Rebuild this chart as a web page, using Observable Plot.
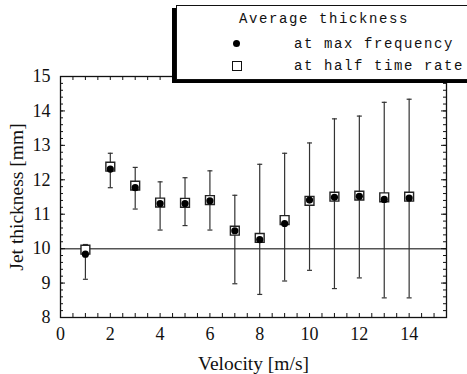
<!DOCTYPE html>
<html>
<head>
<meta charset="utf-8">
<script src="https://cdn.jsdelivr.net/npm/d3@7"></script>
<script src="https://cdn.jsdelivr.net/npm/@observablehq/plot@0.6"></script>
<style>
  html, body { margin: 0; padding: 0; background: white; }
  #wrap { position: relative; width: 467px; height: 374px; overflow: hidden; }
  #legend {
    position: absolute; left: 176px; top: 5px; width: 320px; height: 73px;
    border: 1px solid #111; background: white; box-shadow: -4px 3px 0 #000;
    font-family: "Liberation Mono", "DejaVu Sans Mono", monospace; font-size: 14px;
    letter-spacing: 1.6px; color: #111;
  }
  #legend .t { position: absolute; white-space: pre; line-height: 16px; }
  #legend .dot { position: absolute; width: 7px; height: 7px; border-radius: 50%; background: #000; }
  #legend .sq { position: absolute; width: 8px; height: 8px; border: 1px solid #111; background: white; }
</style>
</head>
<body>
<div id="wrap"></div>
<script>
const velocity = [1, 2, 3, 4, 5, 6, 7, 8, 9, 10, 11, 12, 13, 14];
const maxFrequency = [9.84, 12.31, 11.77, 11.31, 11.31, 11.39, 10.52, 10.26, 10.73, 11.41, 11.49, 11.52, 11.43, 11.47];
const halfTimeRate = [9.97, 12.38, 11.83, 11.34, 11.33, 11.41, 10.52, 10.31, 10.83, 11.39, 11.51, 11.54, 11.49, 11.51];
const errLow  = [9.11, 11.77, 11.15, 10.54, 10.67, 10.54, 8.98, 8.67, 9.06, 9.37, 8.84, 9.15, 8.57, 8.57];
const errHigh = [10.12, 12.77, 12.36, 11.94, 12.06, 12.26, 11.55, 12.45, 12.77, 13.07, 13.77, 13.85, 14.25, 14.34];
const xTickLabels = [0, 2, 4, 6, 8, 10, 12, 14];
const yTickLabels = [8, 9, 10, 11, 12, 13, 14, 15];
const referenceLine = [10];
const legendTitle = "Average thickness";
const legendLabels = ["at max frequency", "at half time rate"];

const rows = velocity.map((v, i) => ({
  v, maxF: maxFrequency[i], half: halfTimeRate[i], lo: errLow[i], hi: errHigh[i]
}));

const capSymbol = {
  draw(context, size) {
    const r = 2.5;
    context.moveTo(-r, 0);
    context.lineTo(r, 0);
  }
};

const xMinor = d3.range(0, 15.51, 0.5);
const yMinor = d3.range(8, 15.01, 0.2).map(d => Math.round(d * 10) / 10);

const W = 467, H = 374, mL = 60, mR = 21, mT = 76, mB = 57;
const fw = W - mL - mR, fh = H - mT - mB;

const chart = Plot.plot({
  width: W,
  height: H,
  marginLeft: mL,
  marginRight: mR,
  marginTop: mT,
  marginBottom: mB,
  style: { fontFamily: "'Liberation Serif', 'Times New Roman', serif", fontSize: "18px", background: "white", color: "#111" },
  x: { domain: [0, 15.5] },
  y: { domain: [8, 15] },
  marks: [
    Plot.ruleY(referenceLine, { stroke: "#555", strokeWidth: 1.5 }),
    Plot.frame({ stroke: "#111", strokeWidth: 1.3 }),
    // tick labels
    Plot.axisX(xTickLabels, { anchor: "bottom", tickSize: 0, tickPadding: 10, fontSize: 18, label: null }),
    Plot.axisY(yTickLabels, { anchor: "left", tickSize: 0, tickPadding: 10, fontSize: 18, label: null }),
    // axis titles
    Plot.axisX([], { anchor: "bottom", label: "Velocity [m/s]", labelAnchor: "center", labelArrow: "none", labelOffset: 52, fontSize: 19.5 }),
    Plot.axisY([], { anchor: "left", label: "Jet thickness [mm]", labelAnchor: "center", labelArrow: "none", labelOffset: 51, fontSize: 19.5 }),
    // inward ticks
    Plot.tickX(xMinor, { x: d => d, insetTop: fh - 4, stroke: "#111" }),
    Plot.tickX(xMinor, { x: d => d, insetBottom: fh - 4, stroke: "#111" }),
    Plot.tickY(yMinor, { y: d => d, insetRight: fw - 3, stroke: "#111" }),
    Plot.tickY(yTickLabels, { y: d => d, insetRight: fw - 5, stroke: "#111" }),
    Plot.tickY(yMinor, { y: d => d, insetLeft: fw - 3, stroke: "#111" }),
    Plot.tickY(yTickLabels, { y: d => d, insetLeft: fw - 5, stroke: "#111" }),
    // error bars
    Plot.ruleX(rows, { x: "v", y1: "lo", y2: "hi", stroke: "#333", strokeWidth: 1.2 }),
    Plot.dot(rows, { x: "v", y: "lo", symbol: capSymbol, stroke: "#333", strokeWidth: 1.2, r: 3 }),
    Plot.dot(rows, { x: "v", y: "hi", symbol: capSymbol, stroke: "#333", strokeWidth: 1.2, r: 3 }),
    // points
    Plot.dot(rows, { x: "v", y: "half", symbol: "square", r: 5, fill: "white", stroke: "#222", strokeWidth: 1.4 }),
    Plot.dot(rows, { x: "v", y: "maxF", symbol: "circle", r: 3.6, fill: "#000", stroke: "none" })
  ]
});

const wrap = document.getElementById("wrap");
wrap.appendChild(chart);

const legend = document.createElement("div");
legend.id = "legend";
const title = document.createElement("div");
title.className = "t"; title.textContent = legendTitle;
title.style.left = "62px"; title.style.top = "5px";
legend.appendChild(title);
const dot = document.createElement("div");
dot.className = "dot"; dot.style.left = "56px"; dot.style.top = "34px";
legend.appendChild(dot);
const l1 = document.createElement("div");
l1.className = "t"; l1.textContent = legendLabels[0];
l1.style.left = "117px"; l1.style.top = "30px";
legend.appendChild(l1);
const sq = document.createElement("div");
sq.className = "sq"; sq.style.left = "55px"; sq.style.top = "55px";
legend.appendChild(sq);
const l2 = document.createElement("div");
l2.className = "t"; l2.textContent = legendLabels[1];
l2.style.left = "117px"; l2.style.top = "52px";
legend.appendChild(l2);
wrap.appendChild(legend);
</script>
</body>
</html>
